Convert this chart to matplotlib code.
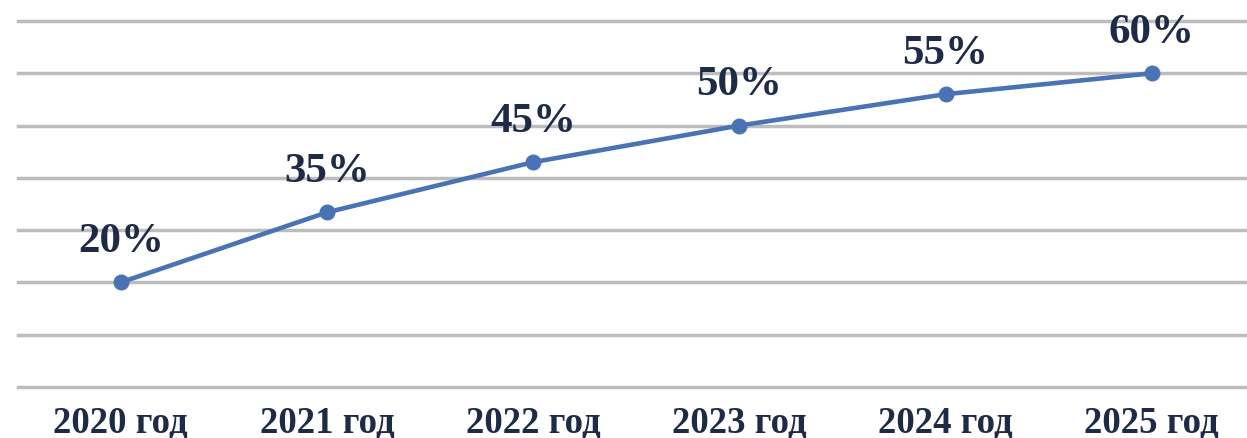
import matplotlib
matplotlib.use("Agg")
import matplotlib.pyplot as plt

categories = ["2020 год", "2021 год", "2022 год", "2023 год", "2024 год", "2025 год"]
values = [20, 33.4, 43, 50, 56, 60]
value_labels = ["20%", "35%", "45%", "50%", "55%", "60%"]

W, H = 1247, 438
fig = plt.figure(figsize=(W / 100, H / 100), dpi=100)
left, right = 17.6, 1254.8
bottom, top = 387, 21
ax = fig.add_axes([left / W, (H - bottom) / H, (right - left) / W, (bottom - top) / H])

line_color = "#4A73B5"
text_color = "#1E2B47"
grid_color = "#BDBDBD"

x = list(range(len(categories)))
ax.plot(x, values, color=line_color, lw=3.3, marker="o", ms=10.5, mfc=line_color, mec=line_color, zorder=3,
        solid_capstyle="round")

for xi, v, lab in zip(x, values, value_labels):
    ax.annotate(lab, (xi, v), xytext=(0, 29), textcoords="offset points", ha="center", va="center",
                fontsize=31, fontweight="bold", family="Liberation Serif", color=text_color, zorder=4)

ax.set_xlim(-0.5, 5.5)
ax.set_ylim(0, 70)
ax.set_yticks(range(0, 71, 10))
ax.yaxis.grid(True, color=grid_color, lw=2.5)
for gl in ax.get_ygridlines():
    gl.set_clip_on(False)
ax.set_axisbelow(True)
ax.tick_params(axis="y", left=False, labelleft=False)
ax.set_xticks(x)
ax.set_xticklabels(categories, fontsize=26.5, fontweight="bold", family="Liberation Serif", color=text_color)
ax.tick_params(axis="x", length=0, pad=13)
for s in ax.spines.values():
    s.set_visible(False)

fig.savefig("out.png", dpi=100)
